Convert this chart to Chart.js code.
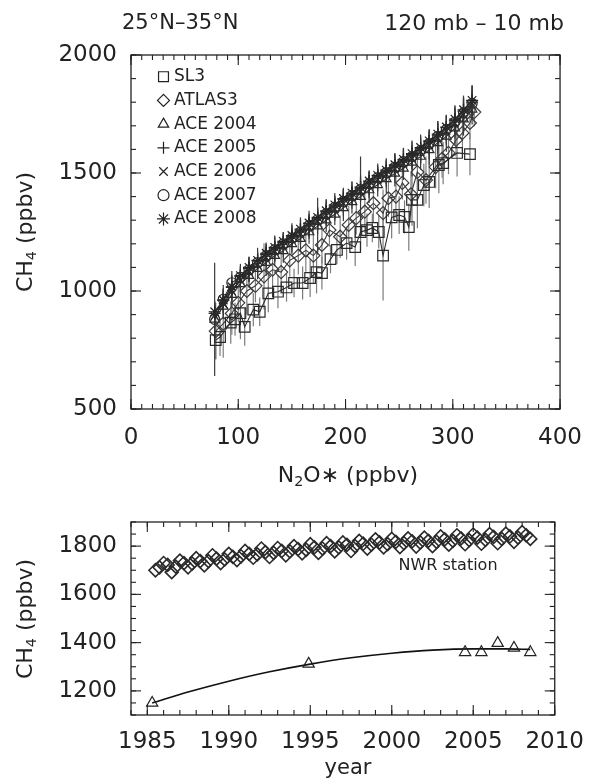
<!DOCTYPE html>
<html>
<head>
<meta charset="utf-8">
<script src="https://cdn.jsdelivr.net/npm/chart.js@4.4.0/dist/chart.umd.min.js"></script>
<style>
  body { margin: 0; background: #fff; }
  #wrap { position: relative; width: 597px; height: 783px; }
  canvas { position: absolute; left: 0; }
</style>
</head>
<body>
<div id="wrap">
  <canvas id="upper" width="597" height="490" style="top:0"></canvas>
  <canvas id="lower" width="597" height="293" style="top:490px"></canvas>
</div>
<script>
const FONT = "'DejaVu Sans', sans-serif";
const INK = '#222';

// upper panel: CH4 against N2O*, 25N-35N, 120-10 mb
const seriesNames = ['SL3', 'ATLAS3', 'ACE 2004', 'ACE 2005', 'ACE 2006', 'ACE 2007', 'ACE 2008'];
const n2oTicks = [0, 100, 200, 300, 400];
const ch4Ticks = [500, 1000, 1500, 2000];

const sl3N2O = [79, 83, 93, 97, 102, 106, 114, 120, 128, 137, 145, 152, 160, 167, 173, 178, 186, 192, 201, 209, 214, 220, 225, 231, 235, 243, 250, 255, 259, 262, 267, 273, 278, 287, 291, 304, 316];
const sl3CH4 = [792, 805, 866, 880, 906, 848, 921, 912, 990, 997, 1015, 1034, 1034, 1055, 1080, 1076, 1135, 1174, 1203, 1186, 1250, 1258, 1267, 1250, 1150, 1312, 1322, 1314, 1271, 1386, 1386, 1449, 1462, 1534, 1542, 1585, 1580];
const sl3Err = [80, 80, 90, 70, 110, 80, 70, 60, 80, 70, 60, 60, 70, 80, 90, 70, 60, 60, 70, 80, 80, 70, 60, 70, 190, 90, 80, 70, 100, 110, 120, 90, 110, 120, 90, 100, 90];

const atlas3N2O = [79, 86, 94, 100, 108, 116, 124, 132, 140, 148, 156, 163, 170, 178, 185, 195, 203, 210, 218, 226, 235, 240, 247, 253, 261, 267, 275, 284, 290, 296, 303, 309, 316, 320];
const atlas3CH4 = [830, 862, 905, 950, 1000, 1022, 1062, 1090, 1080, 1130, 1150, 1172, 1150, 1195, 1258, 1230, 1280, 1309, 1336, 1372, 1330, 1393, 1400, 1458, 1410, 1504, 1470, 1525, 1560, 1585, 1640, 1670, 1712, 1758];
const atlas3Err = [120, 145, 90, 80, 100, 70, 140, 80, 90, 70, 80, 90, 120, 80, 70, 90, 80, 70, 90, 80, 100, 80, 90, 70, 90, 80, 100, 90, 80, 90, 70, 80, 70, 60];

const aceN2O = [78, 86, 94, 102, 110, 118, 126, 134, 142, 150, 158, 166, 174, 182, 190, 198, 206, 214, 222, 230, 238, 246, 254, 262, 270, 278, 286, 294, 302, 310, 318];
const ace2004CH4 = [880, 935, 985, 1030, 1065, 1095, 1120, 1150, 1170, 1200, 1222, 1250, 1275, 1300, 1325, 1352, 1378, 1400, 1428, 1450, 1475, 1498, 1520, 1545, 1570, 1598, 1628, 1655, 1690, 1728, 1770];
const ace2005CH4 = [905, 960, 1015, 1062, 1095, 1128, 1155, 1182, 1205, 1232, 1255, 1285, 1308, 1336, 1360, 1388, 1412, 1436, 1462, 1488, 1508, 1532, 1552, 1578, 1602, 1632, 1660, 1692, 1722, 1762, 1800];
const ace2006CH4 = [895, 945, 1000, 1045, 1082, 1110, 1142, 1168, 1192, 1218, 1242, 1270, 1295, 1320, 1348, 1372, 1398, 1422, 1448, 1472, 1495, 1518, 1540, 1562, 1590, 1618, 1648, 1678, 1710, 1748, 1785];
const ace2007CH4 = [880, 965, 1035, 1058, 1090, 1120, 1150, 1175, 1200, 1225, 1250, 1278, 1302, 1328, 1355, 1380, 1405, 1430, 1455, 1480, 1502, 1525, 1548, 1570, 1596, 1625, 1655, 1685, 1716, 1755, 1795];
const ace2008CH4 = [912, 962, 1018, 1065, 1100, 1130, 1160, 1185, 1210, 1235, 1262, 1288, 1312, 1340, 1365, 1392, 1415, 1440, 1466, 1490, 1512, 1535, 1558, 1582, 1608, 1636, 1665, 1695, 1728, 1768, 1808];
const ace2004Err = [60, 55, 50, 45, 50, 45, 55, 45, 50, 45, 55, 50, 120, 50, 45, 55, 50, 170, 55, 50, 60, 55, 50, 60, 55, 65, 60, 65, 70, 70, 65];
const ace2005Err = [50, 45, 55, 45, 50, 55, 45, 50, 45, 55, 50, 55, 45, 50, 55, 45, 50, 55, 50, 45, 55, 50, 55, 60, 55, 50, 60, 55, 65, 60, 70];
const ace2006Err = [55, 50, 45, 50, 45, 50, 55, 45, 50, 55, 45, 50, 55, 45, 50, 55, 50, 45, 55, 50, 55, 60, 55, 50, 55, 60, 65, 60, 65, 70, 60];
const ace2007Err = [240, 60, 50, 45, 50, 45, 40, 50, 45, 40, 50, 45, 40, 50, 45, 50, 40, 45, 50, 45, 50, 45, 55, 50, 55, 50, 55, 60, 55, 60, 70];
const ace2008Err = [45, 50, 45, 50, 45, 40, 45, 50, 40, 45, 50, 40, 45, 50, 40, 45, 50, 45, 40, 50, 45, 50, 45, 50, 55, 50, 55, 50, 55, 60, 65];

// lower panel: NWR surface record (quarterly, from mid 1985) and the 25-35N values by year
const yearTicks = [1985, 1990, 1995, 2000, 2005, 2010];
const surfTicks = [1200, 1400, 1600, 1800];
const nwrStart = 1985.5;
const nwrStep = 0.25;
const nwrCH4 = [
  1700, 1712, 1730, 1722, 1692, 1715, 1740, 1730, 1712, 1728, 1750, 1738,
  1720, 1738, 1762, 1748, 1730, 1745, 1768, 1755, 1742, 1758, 1780, 1768,
  1752, 1766, 1790, 1775, 1755, 1772, 1792, 1780, 1762, 1778, 1800, 1788,
  1770, 1785, 1808, 1795, 1772, 1790, 1812, 1800, 1778, 1795, 1815, 1805,
  1780, 1800, 1822, 1810, 1790, 1806, 1828, 1815, 1795, 1808, 1830, 1818,
  1796, 1812, 1832, 1820, 1798, 1815, 1835, 1822, 1800, 1818, 1840, 1828,
  1806, 1822, 1845, 1832, 1808, 1825, 1848, 1835, 1810, 1826, 1850, 1838,
  1812, 1830, 1852, 1840, 1818, 1835, 1858, 1845, 1830
];
const satYears = [1985.3, 1994.9, 2004.5, 2005.5, 2006.5, 2007.5, 2008.5];
const satCH4 = [1150, 1312, 1360, 1360, 1398, 1378, 1360];
const fitYears = [1985.3, 1987.5, 1990, 1992.5, 1995, 1997.5, 2000, 2002.5, 2005, 2007, 2008.5];
const fitCH4 = [1150, 1195, 1240, 1279, 1311, 1337, 1356, 1369, 1374, 1374, 1372];

const pts = (xs, ys) => xs.map((x, i) => ({ x, y: ys[i] }));

// text with subscript parts: [string, isSub]
function drawRich(ctx, parts, x, y, size, align, rotate) {
  ctx.save();
  ctx.translate(x, y);
  if (rotate) ctx.rotate(-Math.PI / 2);
  let w = 0;
  parts.forEach(([s, sub]) => {
    ctx.font = (sub ? size * 0.65 : size) + 'px ' + FONT;
    w += ctx.measureText(s).width;
  });
  let cx = align === 'left' ? 0 : align === 'right' ? -w : -w / 2;
  ctx.fillStyle = INK;
  ctx.textBaseline = 'middle';
  ctx.textAlign = 'left';
  parts.forEach(([s, sub]) => {
    ctx.font = (sub ? size * 0.65 : size) + 'px ' + FONT;
    ctx.fillText(s, cx, sub ? size * 0.3 : 0);
    cx += ctx.measureText(s).width;
  });
  ctx.restore();
}

const errorBars = {
  id: 'errorBars',
  beforeDatasetsDraw(chart) {
    const { ctx, chartArea: a, scales: { x, y } } = chart;
    ctx.save();
    ctx.beginPath();
    ctx.rect(a.left, a.top, a.right - a.left, a.bottom - a.top);
    ctx.clip();
    chart.data.datasets.forEach(ds => {
      if (!ds.errors) return;
      ctx.strokeStyle = ds.errorColor;
      ctx.lineWidth = 1.2;
      ds.data.forEach((p, i) => {
        const px = x.getPixelForValue(p.x);
        ctx.beginPath();
        ctx.moveTo(px, y.getPixelForValue(p.y - ds.errors[i]));
        ctx.lineTo(px, y.getPixelForValue(p.y + ds.errors[i]));
        ctx.stroke();
      });
    });
    ctx.restore();
  }
};

const frame = {
  id: 'frame',
  afterDraw(chart, args, opts) {
    const { ctx, chartArea: a, scales: { x, y } } = chart;
    ctx.save();
    ctx.strokeStyle = INK;
    ctx.lineWidth = 1.3;
    ctx.strokeRect(a.left, a.top, a.right - a.left, a.bottom - a.top);
    const seg = (x1, y1, x2, y2) => { ctx.beginPath(); ctx.moveTo(x1, y1); ctx.lineTo(x2, y2); ctx.stroke(); };
    const xTick = (v, len) => {
      const p = x.getPixelForValue(v);
      seg(p, a.bottom, p, a.bottom - len);
      seg(p, a.top, p, a.top + len);
    };
    const yTick = (v, len) => {
      const p = y.getPixelForValue(v);
      seg(a.left, p, a.left + len, p);
      seg(a.right, p, a.right - len, p);
    };
    ctx.lineWidth = 1.1;
    const nx = Math.round((x.max - x.min) / opts.xMinor);
    for (let i = 0; i <= nx; i++) xTick(x.min + i * opts.xMinor, 5);
    const ny = Math.round((y.max - y.min) / opts.yMinor);
    for (let i = 0; i <= ny; i++) yTick(y.min + i * opts.yMinor, 5);
    x.ticks.forEach(t => xTick(t.value, 10));
    y.ticks.forEach(t => yTick(t.value, 10));
    ctx.restore();
    (opts.texts || []).forEach(t => drawRich(ctx, t.parts, t.x, t.y, t.size, t.align, t.rotate));
  }
};

const legendBox = {
  id: 'legendBox',
  afterDatasetsDraw(chart) {
    const { ctx } = chart;
    ctx.save();
    chart.data.datasets.forEach((ds, i) => {
      const yy = 76.7 + 23.7 * i;
      ctx.strokeStyle = INK;
      ctx.fillStyle = 'rgba(0,0,0,0)';
      ctx.lineWidth = 1.2;
      Chart.helpers.drawPoint(ctx, { pointStyle: ds.pointStyle, radius: ds.legendRadius, rotation: 0, borderWidth: 1.2 }, 163.5, yy);
      ctx.fillStyle = INK;
      ctx.font = '17px ' + FONT;
      ctx.textBaseline = 'middle';
      ctx.textAlign = 'left';
      ctx.fillText(ds.label, 174, yy);
    });
    ctx.restore();
  }
};

function axis(min, max, ticks, padding, fit) {
  return {
    type: 'linear', min, max,
    grid: { display: false, drawTicks: false },
    border: { display: false },
    ticks: {
      padding, color: INK, autoSkip: false, maxRotation: 0,
      font: { family: FONT, size: 23 },
      callback: v => String(v)
    },
    afterBuildTicks: s => { s.ticks = ticks.map(v => ({ value: v })); },
    afterFit: fit
  };
}

function series(label, xs, ys, errs, style, radius, legendRadius, color, errColor) {
  return {
    label, data: pts(xs, ys), errors: errs, errorColor: errColor,
    showLine: true, borderColor: color, borderWidth: 1.1,
    pointStyle: style, pointRadius: radius, legendRadius,
    pointBorderColor: color, pointBackgroundColor: 'rgba(0,0,0,0)', pointBorderWidth: 1.2
  };
}

new Chart(document.getElementById('upper'), {
  type: 'scatter',
  data: {
    datasets: [
      series(seriesNames[0], sl3N2O, sl3CH4, sl3Err, 'rect', 7.5, 7, '#2a2a2a', '#7a7a7a'),
      series(seriesNames[1], atlas3N2O, atlas3CH4, atlas3Err, 'rectRot', 6.5, 6, '#3a3a3a', '#808080'),
      series(seriesNames[2], aceN2O, ace2004CH4, ace2004Err, 'triangle', 5.5, 6, '#2a2a2a', '#3a3a3a'),
      series(seriesNames[3], aceN2O, ace2005CH4, ace2005Err, 'cross', 6, 6, '#2a2a2a', '#3a3a3a'),
      series(seriesNames[4], aceN2O, ace2006CH4, ace2006Err, 'crossRot', 5.5, 6, '#2a2a2a', '#3a3a3a'),
      series(seriesNames[5], aceN2O, ace2007CH4, ace2007Err, 'circle', 5, 5.5, '#2a2a2a', '#3a3a3a'),
      series(seriesNames[6], aceN2O, ace2008CH4, ace2008Err, 'star', 6, 6.5, '#1e1e1e', '#3a3a3a')
    ]
  },
  options: {
    responsive: false,
    animation: false,
    layout: { padding: { left: 0, right: 31, top: 55, bottom: 0 } },
    scales: {
      x: axis(0, 400, n2oTicks, 15, s => { s.height = 81; }),
      y: axis(500, 2000, ch4Ticks, 14, s => { s.width = 131; })
    },
    plugins: {
      legend: { display: false },
      tooltip: { enabled: false },
      frame: {
        xMinor: 10, yMinor: 100,
        texts: [
          { parts: [['25°N–35°N', 0]], x: 122, y: 24, size: 21, align: 'left' },
          { parts: [['120 mb – 10 mb', 0]], x: 564, y: 24, size: 22, align: 'right' },
          { parts: [['CH', 0], ['4', 1], [' (ppbv)', 0]], x: 26, y: 232, size: 22, align: 'center', rotate: true },
          { parts: [['N', 0], ['2', 1], ['O∗ (ppbv)', 0]], x: 348, y: 476, size: 22, align: 'center' }
        ]
      }
    }
  },
  plugins: [errorBars, frame, legendBox]
});

new Chart(document.getElementById('lower'), {
  type: 'scatter',
  data: {
    datasets: [
      {
        label: 'NWR station',
        data: nwrCH4.map((v, i) => ({ x: nwrStart + i * nwrStep, y: v })),
        pointStyle: 'rectRot', pointRadius: 6.5, pointBorderWidth: 1.6,
        pointBorderColor: '#2a2a2a', pointBackgroundColor: 'rgba(0,0,0,0)', showLine: false
      },
      {
        label: '25-35N',
        data: pts(satYears, satCH4),
        pointStyle: 'triangle', pointRadius: 6.5, pointBorderWidth: 1.2,
        pointBorderColor: INK, pointBackgroundColor: 'rgba(0,0,0,0)', showLine: false
      },
      {
        label: 'fit',
        data: pts(fitYears, fitCH4),
        showLine: true, pointRadius: 0, borderColor: '#111', borderWidth: 1.6,
        cubicInterpolationMode: 'monotone'
      }
    ]
  },
  options: {
    responsive: false,
    animation: false,
    layout: { padding: { left: 0, right: 31, top: 32, bottom: 0 } },
    scales: {
      x: axis(1984, 2010, yearTicks, 13, s => { s.height = 68; }),
      y: axis(1100, 1900, surfTicks, 14, s => { s.width = 131; })
    },
    plugins: {
      legend: { display: false },
      tooltip: { enabled: false },
      frame: {
        xMinor: 1, yMinor: 50,
        texts: [
          { parts: [['NWR station', 0]], x: 448, y: 76, size: 16, align: 'center' },
          { parts: [['CH', 0], ['4', 1], [' (ppbv)', 0]], x: 26, y: 129, size: 22, align: 'center', rotate: true },
          { parts: [['year', 0]], x: 348, y: 279, size: 21, align: 'center' }
        ]
      }
    }
  },
  plugins: [frame]
});
</script>
</body>
</html>
